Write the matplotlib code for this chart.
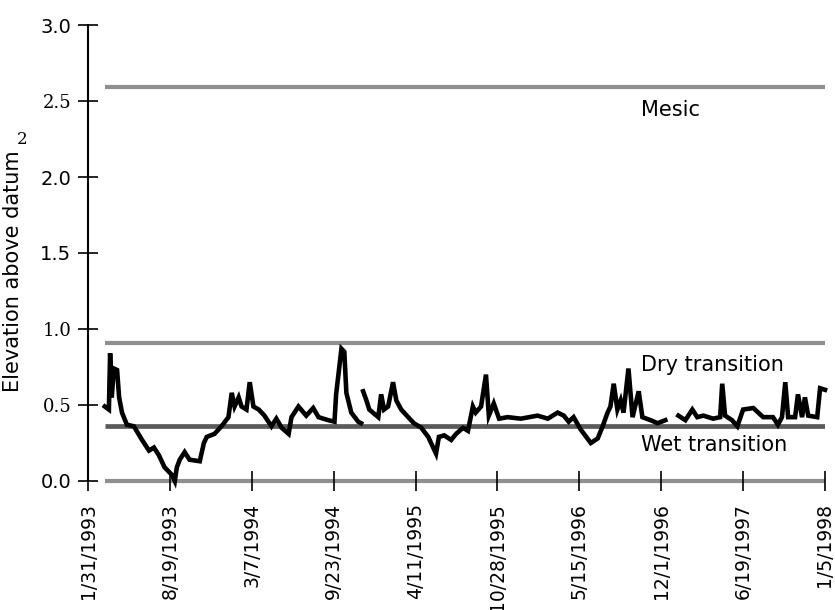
import matplotlib
matplotlib.use("Agg")
import matplotlib.pyplot as plt
import numpy as np
import pandas as pd


# water table record (dates, NaN marks the gaps in the record)
obs_dates = [
    "1993-03-13", "1993-03-23", "1993-03-26", "1993-03-30", "1993-04-04", "1993-04-12",
    "1993-04-17", "1993-04-24", "1993-05-06", "1993-05-23", "1993-06-12", "1993-06-29",
    "1993-07-11", "1993-07-23", "1993-08-06", "1993-08-24", "1993-08-31", "1993-09-05",
    "1993-09-12", "1993-09-24", "1993-10-06", "1993-10-31", "1993-11-10", "1993-11-17",
    "1993-12-06", "1993-12-23", "1994-01-09", "1994-01-17", "1994-01-24", "1994-02-03",
    "1994-02-10", "1994-02-22", "1994-03-02", "1994-03-11", "1994-03-24", "1994-04-07",
    "1994-04-24", "1994-05-06", "1994-05-19", "1994-06-05", "1994-06-12", "1994-06-29",
    "1994-07-18", "1994-08-04", "1994-08-17", "1994-09-10", "1994-09-25", "1994-09-29",
    "1994-10-12", "1994-10-19", "1994-10-24", "1994-11-05", "1994-11-22", "1994-11-29",
    "1994-12-01",
    "1994-12-04", "1994-12-12", "1994-12-19", "1995-01-10", "1995-01-17", "1995-01-24",
    "1995-02-03", "1995-02-15", "1995-02-23", "1995-03-07", "1995-03-24", "1995-04-07",
    "1995-04-25", "1995-05-12", "1995-05-31", "1995-06-07", "1995-06-20", "1995-07-07",
    "1995-07-19", "1995-08-05", "1995-08-17", "1995-08-29", "1995-09-05", "1995-09-18",
    "1995-09-30", "1995-10-07", "1995-10-19", "1995-11-01", "1995-11-22", "1995-12-24",
    "1996-02-03", "1996-02-28", "1996-03-23", "1996-04-07", "1996-04-19", "1996-05-01",
    "1996-05-18", "1996-06-12", "1996-06-29", "1996-07-11", "1996-07-23", "1996-07-30",
    "1996-08-07", "1996-08-16", "1996-08-24", "1996-08-31", "1996-09-12", "1996-09-22",
    "1996-10-07", "1996-10-16", "1996-11-05", "1996-11-22", "1996-12-11",
    "1996-12-25",
    "1997-01-12", "1997-01-29", "1997-02-15", "1997-02-27", "1997-03-14", "1997-04-07",
    "1997-04-24", "1997-04-29", "1997-05-06", "1997-05-23", "1997-06-05", "1997-06-19",
    "1997-07-14", "1997-08-07", "1997-08-31", "1997-09-12", "1997-09-22", "1997-09-30",
    "1997-10-07", "1997-10-24", "1997-10-31", "1997-11-10", "1997-11-17", "1997-11-25",
    "1997-12-17", "1997-12-24", "1998-01-05",
]
elevation = [
    0.49, 0.47, 0.84, 0.55, 0.74, 0.73,
    0.55, 0.45, 0.37, 0.36, 0.27, 0.20,
    0.22, 0.17, 0.09, 0.04, 0.00, 0.09,
    0.14, 0.19, 0.14, 0.13, 0.25, 0.29,
    0.31, 0.36, 0.42, 0.58, 0.49, 0.55,
    0.49, 0.47, 0.65, 0.49, 0.47, 0.43,
    0.36, 0.41, 0.35, 0.31, 0.42, 0.49,
    0.43, 0.48, 0.42, 0.40, 0.39, 0.57,
    0.87, 0.85, 0.58, 0.45, 0.39, 0.38,
    np.nan,
    0.59, 0.53, 0.47, 0.42, 0.57, 0.47,
    0.49, 0.65, 0.53, 0.47, 0.42, 0.38,
    0.35, 0.29, 0.18, 0.29, 0.30, 0.27,
    0.31, 0.35, 0.33, 0.49, 0.45, 0.49,
    0.70, 0.43, 0.51, 0.41, 0.42, 0.41,
    0.43, 0.41, 0.45, 0.43, 0.39, 0.42,
    0.34, 0.25, 0.28, 0.36, 0.45, 0.49,
    0.64, 0.47, 0.53, 0.45, 0.74, 0.42,
    0.59, 0.42, 0.40, 0.38, 0.40,
    np.nan,
    0.43, 0.40, 0.47, 0.42, 0.43, 0.41,
    0.42, 0.64, 0.43, 0.40, 0.36, 0.47,
    0.48, 0.42, 0.42, 0.37, 0.42, 0.65,
    0.42, 0.42, 0.57, 0.42, 0.55, 0.43,
    0.42, 0.61, 0.60,
]

# hydrologic zone boundaries
zone_names = ["Mesic", "Dry transition", "Wet transition"]
zone_levels = [2.59, 0.91, 0.36]
zone_label_y = [2.44, 0.76, 0.24]

tick_dates = ["1993-01-31", "1993-08-19", "1994-03-07", "1994-09-23", "1995-04-11",
              "1995-10-28", "1996-05-15", "1996-12-01", "1997-06-19", "1998-01-05"]
tick_labels = ["1/31/1993", "8/19/1993", "3/7/1994", "9/23/1994", "4/11/1995",
               "10/28/1995", "5/15/1996", "12/1/1996", "6/19/1997", "1/5/1998"]
y_ticks = [0.0, 0.5, 1.0, 1.5, 2.0, 2.5, 3.0]
y_labels = ["0.0", "0.5", "1.0", "1.5", "2.0", "2.5", "3.0"]
serif_ticks = ["0.5", "1.0", "2.5"]

dates = pd.to_datetime(obs_dates)
ticks = pd.to_datetime(tick_dates)

fig = plt.figure(figsize=(8.35, 6.10), dpi=100)
ax = fig.add_axes([0.1054, 0.2115, 0.8826, 0.7475])

start, end = dates[0], ticks[-1]

# zone lines (grey, scanned-looking)
line_colors = ["#8f8f8f", "#8f8f8f", "#5a5a5a"]
line_widths = [3.0, 3.0, 3.4]
for lvl, c, w in zip(zone_levels, line_colors, line_widths):
    ax.plot([start, end], [lvl, lvl], color=c, lw=w, solid_capstyle="butt", zorder=1)
# ground datum
ax.plot([start, end], [0, 0], color="#8f8f8f", lw=3.0, solid_capstyle="butt",
        zorder=1, clip_on=False)

ax.plot(dates, elevation, color="black", lw=3.3, zorder=3, clip_on=False,
        solid_joinstyle="miter")

for name, ly in zip(zone_names, zone_label_y):
    ax.text(0.750, ly, name, transform=ax.get_yaxis_transform(), fontsize=15,
            family="DejaVu Sans", va="center", ha="left")

ax.set_xlim(ticks[0], ticks[-1])
ax.set_ylim(0, 3.0)

ax.set_xticks(ticks)
ax.set_xticklabels(tick_labels, rotation=90, fontsize=13.5, family="DejaVu Sans")
ax.set_yticks(y_ticks)
ax.set_yticklabels(y_labels, fontsize=14, family="DejaVu Sans")
for lab in ax.get_yticklabels():
    if lab.get_text() in serif_ticks:
        lab.set_family("DejaVu Serif")
        lab.set_fontsize(13)

ax.tick_params(axis="both", direction="inout", length=14, width=1.2, color="black")
ax.tick_params(axis="x", pad=9)
ax.tick_params(axis="y", pad=5)

for s in ["top", "right", "bottom"]:
    ax.spines[s].set_visible(False)
ax.spines["left"].set_linewidth(1.5)

ax.set_ylabel("Elevation above datum", fontsize=15, family="DejaVu Sans")
ax.yaxis.set_label_coords(-0.088, 0.46)
fig.text(22 / 835, 1 - 140 / 610, "2", fontsize=12, family="DejaVu Serif",
         ha="center", va="center")

fig.savefig("out.png", dpi=100)
